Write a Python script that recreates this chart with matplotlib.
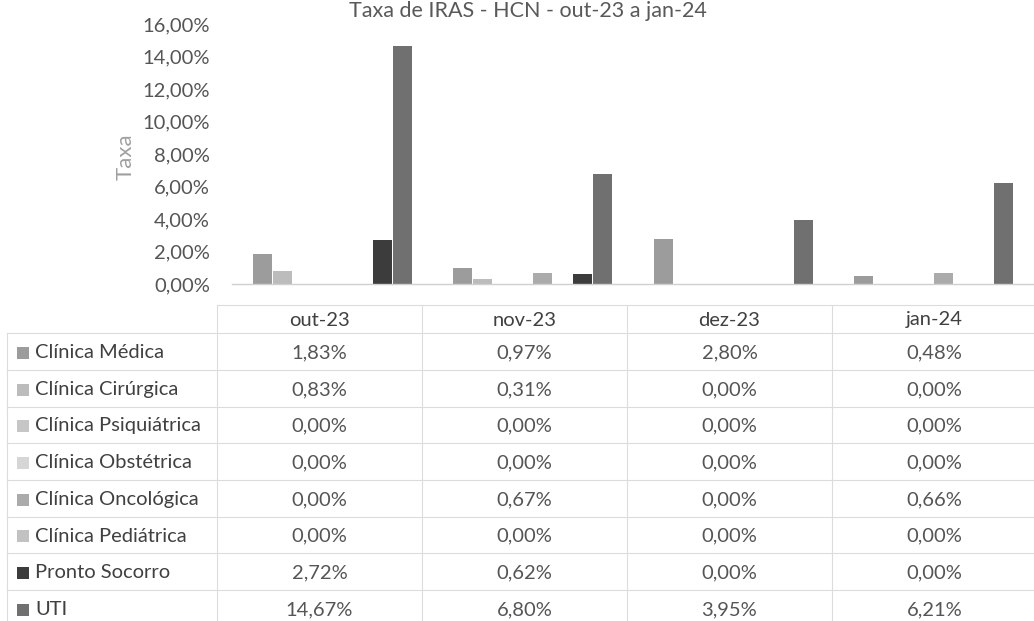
import matplotlib
matplotlib.use("Agg")
import matplotlib.pyplot as plt
from matplotlib.patches import Rectangle
from matplotlib.ticker import FuncFormatter

# data
months = ["out-23", "nov-23", "dez-23", "jan-24"]
series = [
    "Clínica Médica",
    "Clínica Cirúrgica",
    "Clínica Psiquiátrica",
    "Clínica Obstétrica",
    "Clínica Oncológica",
    "Clínica Pediátrica",
    "Pronto Socorro",
    "UTI",
]
clin_medica = [1.83, 0.97, 2.80, 0.48]
clin_cirurgica = [0.83, 0.31, 0.00, 0.00]
clin_psiq = [0.00, 0.00, 0.00, 0.00]
clin_obst = [0.00, 0.00, 0.00, 0.00]
clin_onco = [0.00, 0.67, 0.00, 0.66]
clin_ped = [0.00, 0.00, 0.00, 0.00]
pronto_socorro = [2.72, 0.62, 0.00, 0.00]
uti = [14.67, 6.80, 3.95, 6.21]
values = [clin_medica, clin_cirurgica, clin_psiq, clin_obst,
          clin_onco, clin_ped, pronto_socorro, uti]
yticks = [0, 2, 4, 6, 8, 10, 12, 14, 16]

colors = ["#9c9c9c", "#bcbcbc", "#c6c6c6", "#d6d6d6",
          "#ababab", "#c2c2c2", "#3c3c3c", "#707070"]

W, H = 1034, 621
plt.rcParams["font.family"] = ["Lato", "DejaVu Sans"]

fig = plt.figure(figsize=(W / 100, H / 100), dpi=100)
fig.patch.set_facecolor("white")


def px(x0, y0, x1, y1):
    # pixel box (top-left origin) -> figure fraction
    return [x0 / W, 1 - y1 / H, (x1 - x0) / W, (y1 - y0) / H]


def pct(v):
    return f"{v:.2f}%".replace(".", ",")


ax = fig.add_axes(px(232, 24, 1034, 284))
n = len(series)
pitch = 0.1
for i, (vals, c) in enumerate(zip(values, colors)):
    xs = [k + (i - (n - 1) / 2) * pitch for k in range(len(months))]
    ax.bar(xs, vals, width=pitch * 0.95, color=c, linewidth=0)

ax.set_xlim(-0.5, len(months) - 0.5)
ax.set_ylim(0, 16)
ax.set_yticks(yticks)
ax.yaxis.set_major_formatter(FuncFormatter(lambda v, p: pct(v)))
ax.tick_params(axis="y", length=0, pad=16, labelsize=14.5, labelcolor="#555555")
ax.set_xticks([])
for s in ["top", "right", "left"]:
    ax.spines[s].set_visible(False)
ax.spines["bottom"].set_color("#d0d0d0")
ax.spines["bottom"].set_linestyle((0, (1, 1)))
ax.spines["bottom"].set_linewidth(1)
ax.set_ylabel("Taxa", fontsize=16, color="#a0a0a0")
ax.yaxis.set_label_coords(-0.12, 0.49)

fig.text(528 / W, 1 - 17 / H, "Taxa de IRAS - HCN - out-23 a jan-24",
         ha="center", va="baseline", fontsize=15.5, color="#595959")

# data table below the chart, in pixel coordinates
tab = fig.add_axes([0, 0, 1, 1])
tab.set_xlim(0, W)
tab.set_ylim(H, 0)
tab.axis("off")

col_edges = [217, 422, 627, 832, 1037]
row_edges = [305, 333, 370, 407, 443, 480, 517, 553, 590, 627]
grid = "#dcdcdc"
for x in col_edges:
    tab.plot([x, x], [row_edges[0], row_edges[-1]], color=grid, lw=0.8)
tab.plot([7, 7], [row_edges[1], row_edges[-1]], color=grid, lw=0.8)
for j, y in enumerate(row_edges):
    x0 = col_edges[0] if j == 0 else 7
    tab.plot([x0, col_edges[-1]], [y, y], color=grid, lw=0.8)

fs = 14.5
for k, m in enumerate(months):
    cx = (col_edges[k] + col_edges[k + 1]) / 2
    tab.text(cx, (row_edges[0] + row_edges[1]) / 2 + 1, m, ha="center",
             va="center", fontsize=fs, color="#404040")

for i, (name, vals, c) in enumerate(zip(series, values, colors)):
    cy = (row_edges[i + 1] + row_edges[i + 2]) / 2 + 1
    tab.add_patch(Rectangle((17, cy - 6), 12, 12, color=c, lw=0))
    tab.text(35, cy, name, ha="left", va="center", fontsize=fs, color="#404040")
    for k, v in enumerate(vals):
        cx = (col_edges[k] + col_edges[k + 1]) / 2
        tab.text(cx, cy, pct(v), ha="center", va="center", fontsize=fs,
                 color="#555555")

fig.savefig("out.png", dpi=100, facecolor="white")
